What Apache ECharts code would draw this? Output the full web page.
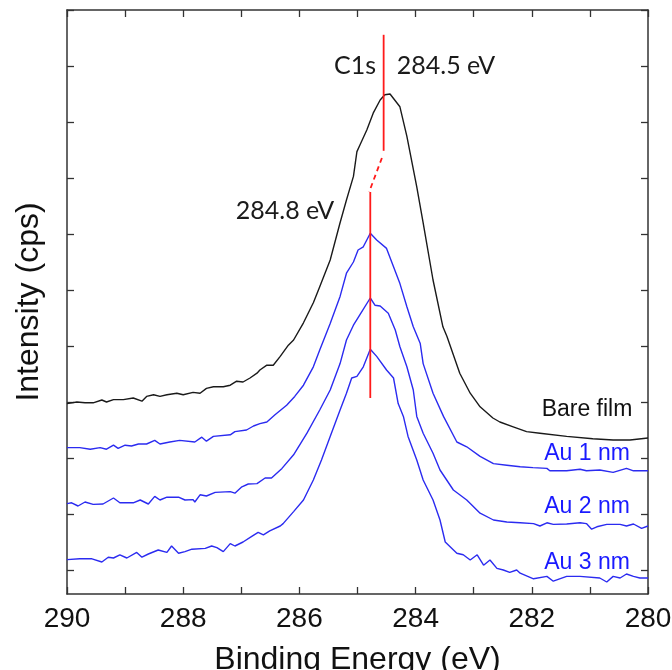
<!DOCTYPE html>
<html>
<head>
<meta charset="utf-8">
<script src="https://cdn.jsdelivr.net/npm/echarts@6/dist/echarts.min.js"></script>
<style>html,body{margin:0;padding:0;background:#fff}#c{width:672px;height:670px}</style>
</head>
<body>
<div id="c"></div>
<script>
// Binding energy (eV) and intensity (offset, a.u.) for each spectrum
const bareE = [290.00,289.83,289.69,289.55,289.40,289.32,289.20,289.03,288.86,288.71,288.63,288.51,288.40,288.28,288.11,288.00,287.83,287.71,287.60,287.48,287.31,287.19,287.08,286.97,286.85,286.73,286.68,286.56,286.45,286.33,286.19,286.10,285.93,285.76,285.65,285.47,285.30,285.19,285.07,285.01,284.96,284.84,284.73,284.61,284.53,284.44,284.27,284.15,283.98,283.87,283.70,283.53,283.46,283.24,283.06,282.89,282.67,282.55,282.32,282.09,281.86,281.40,280.95,280.60,280.31,280.00];
const bareI = [23.8,24.0,23.9,23.9,24.25,24.0,24.3,24.3,24.5,24.1,24.7,24.9,24.7,24.9,25.1,24.9,25.2,25.1,25.7,25.9,25.9,26.1,26.6,26.5,27.0,27.6,28.0,28.6,28.6,29.7,31.1,31.75,33.9,36.4,38.4,41.75,46.4,49.25,52.2,55.3,56.1,58.0,60.1,61.75,62.4,62.5,60.9,57.2,50.9,46.4,39.25,33.4,32.2,27.6,25.1,23.4,22.0,21.5,20.9,20.3,20.1,19.7,19.4,19.25,19.25,19.5];

const au1E = [290.00,289.78,289.60,289.43,289.32,289.20,289.12,289.00,288.89,288.77,288.63,288.49,288.40,288.23,288.06,287.80,287.68,287.60,287.48,287.19,287.11,286.91,286.79,286.68,286.56,286.42,286.22,286.08,285.93,285.76,285.65,285.47,285.30,285.19,285.07,284.99,284.90,284.78,284.67,284.50,284.38,284.27,284.15,284.04,283.92,283.87,283.70,283.52,283.29,283.12,282.89,282.66,282.43,282.20,281.98,281.74,281.69,281.40,281.17,281.06,280.83,280.60,280.37,280.25,280.00];
const au1I = [18.3,18.3,18.1,18.3,18.1,18.6,18.2,18.6,18.5,18.75,18.75,19.2,18.75,19.0,19.2,19.0,19.6,19.1,19.7,19.9,20.3,20.5,21.0,21.3,21.5,22.4,23.6,24.7,26.1,28.4,30.5,33.8,37.2,40.1,41.5,43.0,43.4,45.1,44.25,43.2,40.9,38.8,35.9,33.4,31.3,28.8,25.1,22.2,19.0,18.4,17.2,16.3,16.1,15.9,15.8,15.7,15.4,15.4,15.6,15.4,15.5,15.2,15.7,15.4,15.4];

const au2E = [290.00,289.92,289.81,289.69,289.55,289.38,289.20,289.09,288.86,288.74,288.60,288.49,288.40,288.28,288.08,287.97,287.83,287.80,287.71,287.60,287.45,287.19,287.11,286.99,286.88,286.73,286.59,286.48,286.30,286.10,285.87,285.65,285.47,285.30,285.19,285.07,284.96,284.78,284.70,284.61,284.47,284.35,284.27,284.15,284.04,283.98,283.87,283.70,283.58,283.35,283.12,282.89,282.66,282.43,282.20,281.97,281.86,281.74,281.63,281.40,281.17,281.06,280.97,280.88,280.71,280.48,280.37,280.25,280.11,280.00];
const au2I = [11.3,11.4,11.0,11.5,11.2,11.25,12.0,11.4,11.4,11.75,11.25,12.2,11.75,12.1,12.1,11.75,11.8,11.5,12.4,12.25,12.7,12.8,12.6,13.4,13.75,13.8,14.5,14.5,15.7,17.4,20.1,23.0,25.5,28.8,31.75,33.6,34.9,37.0,36.1,36.0,35.1,33.0,30.9,28.4,25.5,22.2,20.1,17.6,15.5,13.0,11.75,10.1,9.25,9.0,8.9,8.8,8.5,8.9,8.7,8.75,8.9,8.8,8.1,8.4,8.7,8.7,8.5,8.75,8.2,8.5];

const au3E = [290.00,289.78,289.57,289.40,289.29,289.20,289.09,288.97,288.80,288.71,288.60,288.43,288.28,288.20,288.08,287.97,287.85,287.62,287.51,287.42,287.31,287.19,287.11,286.97,286.82,286.71,286.62,286.51,286.33,286.28,286.10,285.93,285.76,285.62,285.47,285.30,285.19,285.10,285.01,284.90,284.78,284.67,284.50,284.38,284.30,284.21,284.13,283.98,283.87,283.70,283.58,283.49,283.29,283.18,283.06,282.94,282.83,282.72,282.60,282.49,282.38,282.26,282.20,281.97,281.74,281.63,281.40,281.17,280.83,280.71,280.60,280.48,280.37,280.25,280.14,280.00];
const au3I = [4.3,4.4,4.4,4.0,4.6,4.5,4.9,4.5,5.2,4.6,5.0,5.5,5.2,6.0,5.1,5.3,5.6,5.7,6.0,5.8,5.3,6.3,6.0,6.5,7.2,7.7,7.4,7.9,8.5,8.8,10.3,11.75,14.25,16.75,19.7,23.0,25.1,27.0,27.2,28.4,30.6,29.7,28.0,27.0,23.8,22.2,19.7,16.75,14.25,11.75,9.25,6.5,5.1,4.9,4.25,4.9,3.6,4.25,3.2,3.0,2.7,3.0,2.6,1.9,2.2,1.6,2.2,2.2,2.0,1.5,2.2,2.0,2.5,2.2,2.0,2.0];

// Peak-position markers (energy, intensity)
const markBareE = [284.55, 284.55];
const markBareI = [69.9, 55.4];
const markShiftE = [284.58, 284.80];
const markShiftI = [54.5, 50.25];
const markAuE = [284.78, 284.78];
const markAuI = [50.25, 24.5];

// Axis ticks
const xTicks = [290, 288, 286, 284, 282, 280];
const yTickValues = [3, 10, 17, 24, 31, 38, 45, 52, 59, 66, 73];

const seriesNames = ['Bare film', 'Au 1 nm', 'Au 2 nm', 'Au 3 nm'];
const peakTexts = ['C1s', '284.5 eV', '284.8 eV'];

function pairs(xs, ys) { return xs.map((x, i) => [x, ys[i]]); }

const chart = echarts.init(document.getElementById('c'), null, {renderer: 'canvas'});
const axisColor = '#333';
const tickStyle = {show: true, inside: true, length: 7, lineStyle: {color: axisColor, width: 1.3}};
const xBase = {
  type: 'value', min: 280, max: 290, interval: 1, inverse: true,
  axisLine: {show: true, onZero: false, lineStyle: {color: axisColor, width: 1.5}},
  axisTick: tickStyle, splitLine: {show: false}
};
const yBase = {
  type: 'value', min: 0, max: 73,
  axisLine: {show: true, onZero: false, lineStyle: {color: axisColor, width: 1.5}},
  axisTick: Object.assign({customValues: yTickValues}, tickStyle),
  axisLabel: {show: false}, splitLine: {show: false}
};
function curve(name, xs, ys, color) {
  return {name, type: 'line', data: pairs(xs, ys), showSymbol: false, symbol: 'none',
    lineStyle: {color, width: 1.4}, z: 2, animation: false};
}
function redLine(xs, ys, dashed) {
  return {type: 'line', data: pairs(xs, ys), showSymbol: false, symbol: 'none',
    lineStyle: {color: '#ff1a1a', width: 1.8, type: dashed ? [5, 4] : 'solid'}, z: 3, animation: false};
}
const blue = '#2b2bf0';
const labelFont = 'Liberation Sans, Arial, sans-serif';
const annoFont = 'Lato, Open Sans, sans-serif';
function gtext(txt, x, y, color, size, fam) {
  return {type: 'text', x, y, style: {text: txt, fill: color, font: size + 'px ' + fam, textAlign: 'center', textVerticalAlign: 'middle'}, z: 10};
}
chart.setOption({
  animation: false,
  backgroundColor: '#fff',
  grid: {left: 67, right: 24, top: 10, bottom: 76, containLabel: false, outerBoundsMode: 'none'},
  xAxis: [
    Object.assign({}, xBase, {
      position: 'bottom',
      name: 'Binding Energy (eV)', nameLocation: 'middle', nameGap: 50,
      nameTextStyle: {fontFamily: labelFont, fontSize: 32, color: '#111'},
      axisLabel: {show: true, margin: 11, fontFamily: labelFont, fontSize: 28, color: '#111',
        customValues: xTicks}
    }),
    Object.assign({}, xBase, {position: 'top', axisLabel: {show: false}})
  ],
  yAxis: [
    Object.assign({}, yBase, {
      position: 'left',
      name: 'Intensity (cps)', nameLocation: 'middle', nameGap: 22,
      nameTextStyle: {fontFamily: labelFont, fontSize: 32, color: '#111'}
    }),
    Object.assign({}, yBase, {position: 'right'})
  ],
  series: [
    curve(seriesNames[0], bareE, bareI, '#1a1a1a'),
    curve(seriesNames[1], au1E, au1I, blue),
    curve(seriesNames[2], au2E, au2I, blue),
    curve(seriesNames[3], au3E, au3I, blue),
    redLine(markBareE, markBareI, false),
    redLine(markShiftE, markShiftI, true),
    redLine(markAuE, markAuI, false)
  ],
  graphic: [
    gtext(peakTexts[0], 355, 66, '#1a1a1a', 25, annoFont),
    gtext(peakTexts[1], 446, 66, '#1a1a1a', 25, annoFont),
    gtext(peakTexts[2], 285, 211, '#1a1a1a', 25, annoFont),
    gtext(seriesNames[0], 587, 410, '#111', 23, labelFont),
    gtext(seriesNames[1], 587, 454, '#1a1aff', 23, labelFont),
    gtext(seriesNames[2], 587, 507, '#1a1aff', 23, labelFont),
    gtext(seriesNames[3], 587, 563, '#1a1aff', 23, labelFont)
  ]
});
</script>
</body>
</html>
